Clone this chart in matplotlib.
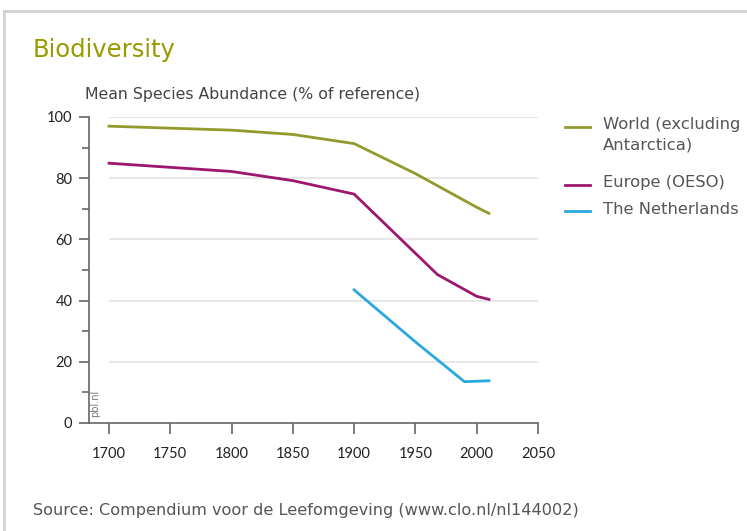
import matplotlib
matplotlib.use("Agg")
import matplotlib.pyplot as plt
from matplotlib.lines import Line2D
from matplotlib.ticker import MultipleLocator

plt.rcParams['font.family'] = ['DejaVu Sans']

# Mean Species Abundance (% of reference)
world_years = [1700, 1800, 1850, 1900, 1950, 2000, 2010]
world_msa = [97.0, 95.7, 94.3, 91.3, 81.5, 70.5, 68.5]

europe_years = [1700, 1800, 1850, 1900, 1968, 2000, 2010]
europe_msa = [84.9, 82.2, 79.2, 74.8, 48.5, 41.4, 40.4]

nl_years = [1900, 1950, 1990, 2010]
nl_msa = [43.5, 26.5, 13.5, 13.8]

series_labels = ["World (excluding\nAntarctica)", "Europe (OESO)", "The Netherlands"]
series_colors = ["#939a2c", "#9e176e", "#2ba8dd"]

x_ticks = [1700, 1750, 1800, 1850, 1900, 1950, 2000, 2050]
y_ticks = [0, 20, 40, 60, 80, 100]

W, H = 747, 531
fig = plt.figure(figsize=(W / 100, H / 100), dpi=100)
fig.patch.set_facecolor("white")

# light frame along top and left edges
fig.add_artist(Line2D([4 / W, 1], [1 - 11 / H, 1 - 11 / H], color="#d2d2d2", lw=2,
                      transform=fig.transFigure))
fig.add_artist(Line2D([4 / W, 4 / W], [0, 1 - 11 / H], color="#d2d2d2", lw=2,
                      transform=fig.transFigure))

ax = fig.add_axes([89 / W, 1 - 423 / H, (538 - 89) / W, (423 - 117) / H])
ax.set_xlim(1683.7, 2050)
ax.set_ylim(0, 100)

for s in ["top", "right"]:
    ax.spines[s].set_visible(False)
for s in ["left", "bottom"]:
    ax.spines[s].set_color("#666666")
    ax.spines[s].set_linewidth(1.2)

ax.hlines(y_ticks[1:], x_ticks[0], x_ticks[-1], colors="#e3e3e3", lw=1.2, zorder=0)

for yrs, vals, c in zip([world_years, europe_years, nl_years],
                        [world_msa, europe_msa, nl_msa], series_colors):
    ax.plot(yrs, vals, color=c, lw=2.0, solid_joinstyle="round", zorder=3)

ax.set_xticks(x_ticks)
ax.set_yticks(y_ticks)
ax.yaxis.set_minor_locator(MultipleLocator(10))
for lab in ax.get_xticklabels() + ax.get_yticklabels():
    lab.set_family(['Lato', 'DejaVu Sans'])
ax.tick_params(axis="x", length=8, width=1.2, color="#666666", pad=9,
               labelsize=10.5, labelcolor="#222222")
ax.tick_params(axis="y", which="major", length=7, width=1.2, color="#666666", pad=5,
               labelsize=10.5, labelcolor="#222222")
ax.tick_params(axis="y", which="minor", length=5, width=1.2, color="#666666")

ax.text(1689, 2, "pbl.nl", rotation=90, fontsize=7, color="#777777",
        ha="center", va="bottom")

fig.text(33 / W, 1 - 50 / H, "Biodiversity", fontsize=17.5, color="#999900",
         ha="left", va="center")
fig.text(85 / W, 1 - 95 / H, "Mean Species Abundance (% of reference)", fontsize=11.3,
         color="#444444", ha="left", va="center")

# legend
legend_rows = [(125, 145), (183, None), (209, None)]
for (ly, ly2), lab, c in zip(legend_rows, series_labels, series_colors):
    fig.add_artist(Line2D([565 / W, 590 / W], [1 - (ly + 2) / H] * 2, color=c, lw=2,
                          transform=fig.transFigure))
    fig.text(603 / W, 1 - ly / H, lab.split("\n")[0], fontsize=11.8, color="#555555",
             ha="left", va="center")
    if "\n" in lab:
        fig.text(603 / W, 1 - ly2 / H, lab.split("\n")[1], fontsize=11.8, color="#555555",
                 ha="left", va="center")

fig.text(33 / W, 1 - 510 / H, "Source: Compendium voor de Leefomgeving (www.clo.nl/nl144002)",
         fontsize=11.6, color="#555555", ha="left", va="center")

fig.savefig("out.png", dpi=100, facecolor="white")
